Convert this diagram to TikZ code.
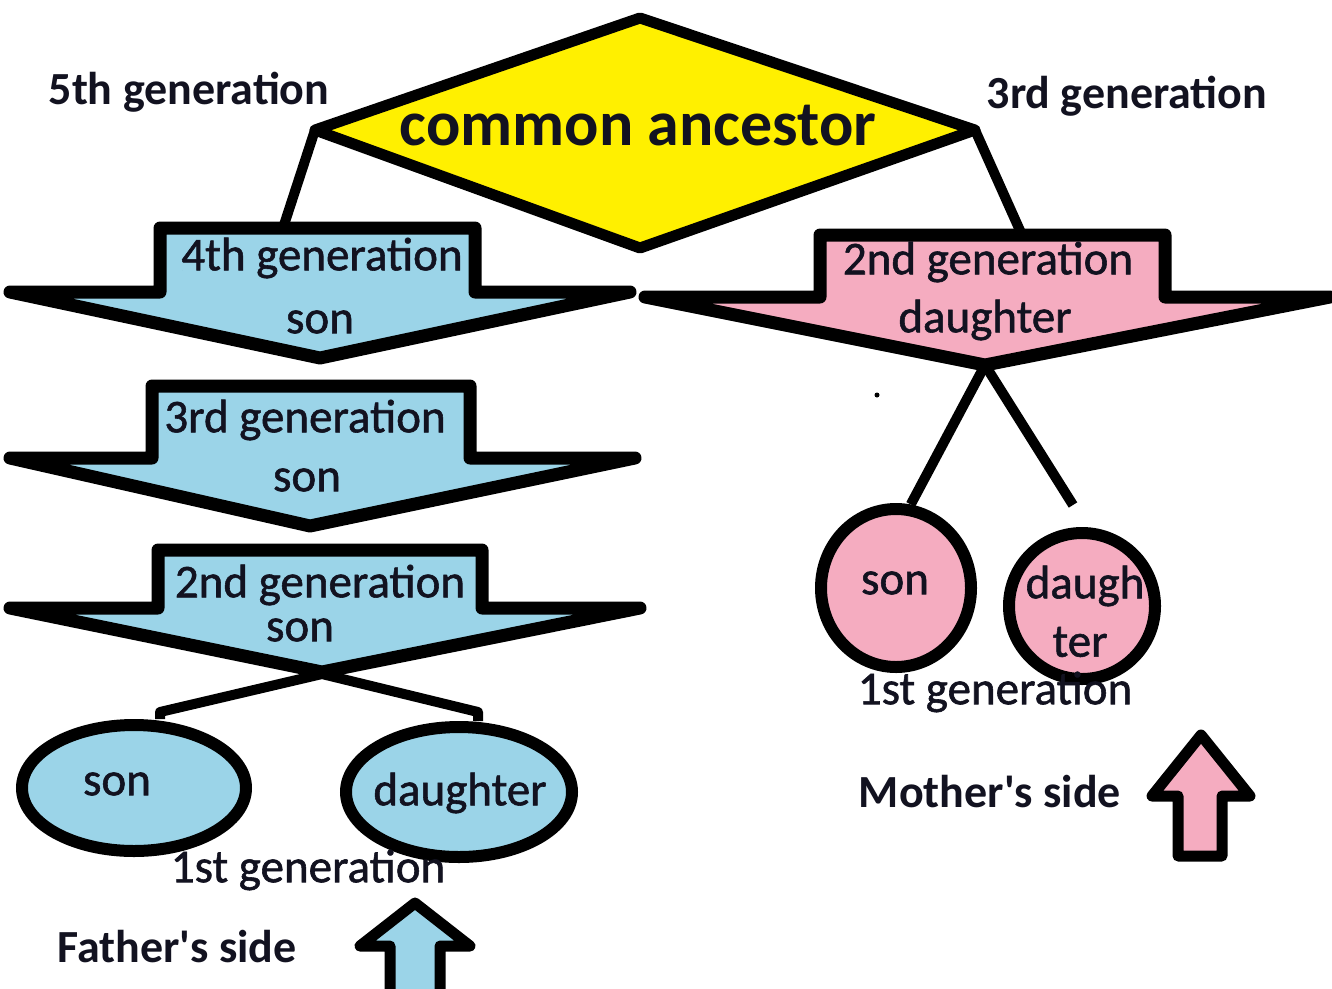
\documentclass[tikz,border=0pt]{standalone}
\usepackage{fontspec}
\setmainfont{Carlito}
\newfontfamily\medfont[FakeBold=1.2]{Carlito}
\newfontfamily\rawfont{Carlito}
\usetikzlibrary{shapes.geometric}
\definecolor{lblue}{RGB}{155,212,232}
\definecolor{lpink}{RGB}{245,172,192}
\definecolor{ayellow}{RGB}{255,240,0}
\definecolor{ink}{RGB}{18,18,32}
\newcommand\DArrow[9]{%
  \filldraw[fill=#9, outl] (#1,#3) -- (#2,#3) -- (#2,#4) -- (#6,#4) -- (#7,#8) -- (#5,#4) -- (#1,#4) -- cycle;}
\newcommand\apos{{\rawfont\bfseries '}}
\begin{document}
\begin{tikzpicture}[x=1pt,y=-1pt,
  outl/.style={draw=black, line width=13pt, line join=round},
  conn/.style={draw=black, line width=10pt, line join=round},
  lab/.style={text=ink, font=\medfont\fontsize{47}{52}\selectfont, inner sep=0pt},
  blab/.style={text=ink, font=\bfseries\fontsize{46}{50}\selectfont, inner sep=0pt},
  oval/.style={ellipse, draw=black, line width=12pt, inner sep=0pt}]
\clip (0,0) rectangle (1332,988);
\fill[white] (0,0) rectangle (1332,988);
% diamond
\coordinate (dt) at (640,18);
\coordinate (dl) at (315,130);
\coordinate (dr) at (975,130);
\coordinate (db) at (640,248);
\filldraw[fill=ayellow, outl, line width=11pt] (dt) -- (dr) -- (db) -- (dl) -- cycle;
\node[lab, font=\bfseries\fontsize{64}{68}\selectfont] (ca) at (638,126) {common ancestor};
\node[blab] (g5) at (189,92) {5th generation};
\node[blab] (g3) at (1127,96) {3rd generation};
% blue arrows
\DArrow{160}{475}{228}{292}{10}{630}{320}{358}{lblue}
\coordinate (a1top) at (283,228);
\coordinate (a1tip) at (320,358);
\node[lab] (a1t) at (322,258) {4th generation};
\node[lab] (a1s) at (320,322) {son};
\DArrow{152}{470}{386}{458}{10}{635}{310}{526}{lblue}
\coordinate (a2tip) at (310,526);
\node[lab] (a2t) at (305,420) {3rd generation};
\node[lab] (a2s) at (307,480) {son};
\DArrow{158}{482}{550}{608}{10}{640}{322}{672}{lblue}
\coordinate (a3tip) at (322,674);
\node[lab] (a3t) at (320,585) {2nd generation};
\node[lab] (a3s) at (300,630) {son};
% pink arrow
\DArrow{820}{1165}{235}{297}{645}{1330}{985}{365}{lpink}
\coordinate (ptop) at (1022,235);
\coordinate (ptip) at (985,365);
\node[lab] (pt) at (988,262) {2nd generation};
\node[lab] (ps) at (985,320) {daughter};
% connectors from diamond
\draw[conn] (dl) -- (a1top);
\draw[conn] (dr) -- (ptop);
% blue ellipses
\node[oval, fill=lblue, minimum width=224pt, minimum height=126pt] (bson) at (134,788) {};
\node[oval, fill=lblue, minimum width=226pt, minimum height=130pt] (bdau) at (459,792) {};
\node[lab] (bsont) at (117,784) {son};
\node[lab] (bdaut) at (460,793) {daughter};
\coordinate (bl) at (160,712);
\coordinate (br) at (478,712);
\draw[conn] (bl |- bson.north) -- (bl) -- (a3tip) -- (br) -- (br |- bdau.north);
\node[lab] (b1g) at (308,870) {1st generation};
\node[blab] (fs) at (177,947) {Father\apos s side};
\filldraw[fill=lblue, outl, line width=11pt] (390,1000) -- (390,946) -- (360,946) -- (415,903) -- (470,946) -- (440,946) -- (440,1000) -- cycle;
% pink circles
\node[oval, fill=lpink, minimum width=150pt, minimum height=158pt] (pson) at (896,588) {};
\node[oval, fill=lpink, minimum width=146pt, minimum height=146pt] (pdau) at (1082,606) {};
\coordinate (pr) at (1073,505);
\draw[conn] (ptip) -- (pson.80);
\draw[conn] (ptip) -- (pr);
\fill (877,395) circle (2.5pt);
\node[lab] (psont) at (895,583) {son};
\node[lab] (pdaut1) at (1085,586) {daugh};
\node[lab] (pdaut2) at (1080,642) {ter};
\node[lab] (p1g) at (995,692) {1st generation};
\node[blab] (ms) at (990,792) {Mother\apos s side};
\filldraw[fill=lpink, outl, line width=11pt] (1178,856) -- (1178,796) -- (1152,796) -- (1201,735) -- (1250,796) -- (1222,796) -- (1222,856) -- cycle;
\end{tikzpicture}
\end{document}
